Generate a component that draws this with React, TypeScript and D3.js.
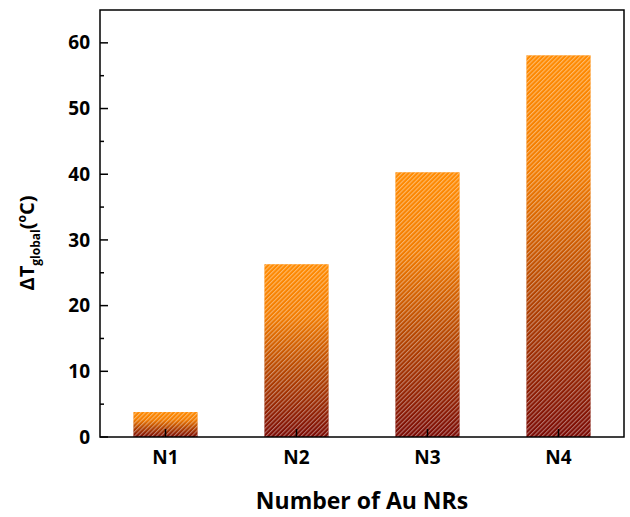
import React from "react";
import * as d3 from "d3";

const categories = ["N1", "N2", "N3", "N4"];
const values = [3.8, 26.3, 40.3, 58.1];
const yTicks = [0, 10, 20, 30, 40, 50, 60];
const yMinorTicks = [5, 15, 25, 35, 45, 55];

const W = 630, H = 517;
const m = { left: 100, right: 6, top: 10, bottom: 80 };

export default function App() {
  const x = d3.scaleBand<string>().domain(categories).range([m.left, W - m.right]).paddingInner(0.51).paddingOuter(0.255);
  const y = d3.scaleLinear().domain([0, 65]).range([H - m.bottom, m.top]);
  const font = "'Open Sans', sans-serif";
  const x0 = m.left, x1 = W - m.right, y0 = H - m.bottom, y1 = m.top;
  return (
    <svg width={W} height={H} style={{ position: "absolute", left: 0, top: 0 }}>
      <defs>
        <linearGradient id="grad" x1="0" y1="0" x2="0" y2="1">
          <stop offset="0" stopColor="#ff8a00" />
          <stop offset="0.3" stopColor="#f27c00" />
          <stop offset="0.6" stopColor="#b84800" />
          <stop offset="1" stopColor="#7a0a04" />
        </linearGradient>
        <pattern id="hatch" width="3.1" height="3.1" patternUnits="userSpaceOnUse" patternTransform="rotate(45)">
          <rect x="0" y="0" width="1.1" height="3.1" fill="rgba(255,255,255,0.42)" />
        </pattern>
      </defs>
      <rect width={W} height={H} fill="#fff" />
      {categories.map((c, i) => (
        <g key={c}>
          <rect x={x(c)} y={y(values[i])} width={x.bandwidth()} height={y(0) - y(values[i])} fill="url(#grad)" />
          <rect x={x(c)} y={y(values[i])} width={x.bandwidth()} height={y(0) - y(values[i])} fill="url(#hatch)" />
        </g>
      ))}
      <rect x={x0} y={y1} width={x1 - x0} height={y0 - y1} fill="none" stroke="#000" strokeWidth={1.5} />
      {yTicks.map((t) => (
        <g key={t}>
          <line x1={x0} x2={x0 + 8} y1={y(t)} y2={y(t)} stroke="#000" strokeWidth={1.5} />
          <text x={x0 - 10} y={y(t)} dy="0.35em" textAnchor="end" fontFamily={font} fontWeight="bold" fontSize={19}>{t}</text>
        </g>
      ))}
      {yMinorTicks.map((t) => (
        <line key={t} x1={x0} x2={x0 + 4} y1={y(t)} y2={y(t)} stroke="#000" strokeWidth={1.5} />
      ))}
      {categories.map((c) => {
        const cx = (x(c) as number) + x.bandwidth() / 2;
        return (
          <g key={c}>
            <line x1={cx} x2={cx} y1={y0} y2={y0 - 8} stroke="#000" strokeWidth={1.5} />
            <text x={cx} y={464} textAnchor="middle" fontFamily={font} fontWeight="bold" fontSize={19}>{c}</text>
          </g>
        );
      })}
      <text x={(x0 + x1) / 2} y={509} textAnchor="middle" fontFamily={font} fontWeight="bold" fontSize={23}>Number of Au NRs</text>
      <text transform={`translate(34,243) rotate(-90)`} textAnchor="middle" fontFamily={font} fontWeight="bold" fontSize={20}>
        <tspan>ΔT</tspan>
        <tspan fontSize={12} dy="6">global</tspan>
        <tspan dy="-6">(</tspan>
        <tspan fontSize={12} dy="-8">o</tspan>
        <tspan dy="8">C)</tspan>
      </text>
    </svg>
  );
}
